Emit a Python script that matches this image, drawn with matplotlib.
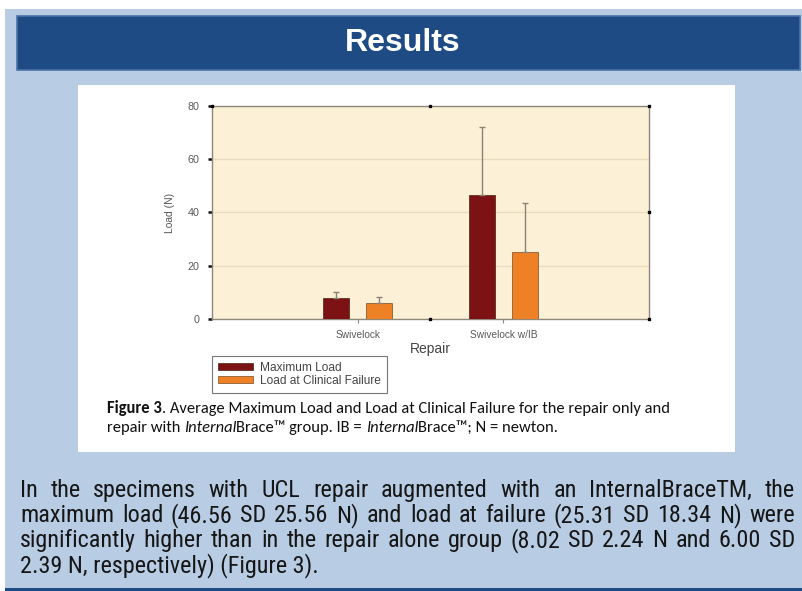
import matplotlib
matplotlib.use("Agg")
import matplotlib.pyplot as plt
from matplotlib.patches import Rectangle
from matplotlib.transforms import IdentityTransform
from matplotlib import font_manager as fm
import numpy as np

# ---------------- data ----------------
categories = ["Swivelock", "Swivelock w/IB"]
max_load = [8.02, 46.56]
max_load_sd = [2.24, 25.56]
clin_load = [6.00, 25.31]
clin_load_sd = [2.39, 18.34]
series_names = ["Maximum Load", "Load at Clinical Failure"]
yticks = [0, 20, 40, 60, 80]

W, H = 803, 591
fig = plt.figure(figsize=(W / 100, H / 100), dpi=100)
fig.patch.set_facecolor("white")
ID = IdentityTransform()


def px_rect(x0, y0, x1, y1, **kw):
    fig.patches.append(Rectangle((x0, H - y1), x1 - x0, y1 - y0, transform=ID, **kw))


# backgrounds (below the axes)
px_rect(5, 9, 803, 591, facecolor="#b8cce4", edgecolor="none", zorder=-10)
px_rect(17, 16, 800, 70, facecolor="#1f4b84", edgecolor="#4a72a8", lw=1.2, zorder=-9)
px_rect(78, 85, 735, 452, facecolor="white", edgecolor="none", zorder=-9)
px_rect(5, 588, 803, 591, facecolor="#1f4b84", edgecolor="none", zorder=-9)

renderer = fig.canvas.get_renderer()


def width_of(s, **kw):
    t = fig.text(0, 0, s, transform=ID, **kw)
    w = t.get_window_extent(renderer).width
    t.remove()
    return w


def fit_size(s, target, **kw):
    w = width_of(s, fontsize=10, **kw)
    return 10 * target / w


def find_family(cands, default):
    for c in cands:
        try:
            fm.findfont(fm.FontProperties(family=c), fallback_to_default=False)
            return c
        except Exception:
            pass
    return default


chart_font = "Liberation Sans"

# header title
hs = fit_size("Results", 116, family=chart_font, weight="bold")
fig.text(403 / W, 1 - 43 / H, "Results", ha="center", va="center", color="white",
         family=chart_font, weight="bold", fontsize=hs, zorder=3)

# ---------------- chart ----------------
ax = fig.add_axes([212 / W, 1 - 319 / H, 437 / W, 213 / H])
ax.set_facecolor("#fcf0d7")
x = np.arange(len(categories))
bw = 0.18
off = 0.147
err_kw = dict(ecolor="#8a8273", elinewidth=1.0, capsize=2.5, capthick=1.0)
ax.bar(x - off, max_load, bw, yerr=[np.zeros(2), max_load_sd], color="#7d1214",
       edgecolor="#4a2010", linewidth=0.5, error_kw=err_kw, label=series_names[0], zorder=3)
ax.bar(x + off, clin_load, bw, yerr=[np.zeros(2), clin_load_sd], color="#ee8125",
       edgecolor="#7a4a20", linewidth=0.5, error_kw=err_kw, label=series_names[1], zorder=3)
ax.set_xlim(-1, 2)
ax.set_ylim(0, 80)
ax.set_yticks(yticks)
ax.set_xticks(x)
for s in ax.spines.values():
    s.set_color("#8d887c")
    s.set_linewidth(1.0)
ax.yaxis.grid(True, color="#eadcbf", linewidth=1.0, zorder=0)
ax.set_axisbelow(True)

xt_fs = fit_size("Swivelock", 49, family=chart_font) * 0.92
yt_fs = fit_size("80", 12, family=chart_font)
ax.set_yticklabels([str(v) for v in yticks], family=chart_font, fontsize=yt_fs, color="#5a5a5a")
ax.set_xticklabels(categories, family=chart_font, fontsize=xt_fs, color="#5a5a5a")
ax.tick_params(axis="y", length=3, width=1.8, color="#111111", pad=6)
ax.tick_params(axis="x", length=3, width=0.8, color="#8d887c", pad=5)
lab_fs = fit_size("Load (N)", 40, family=chart_font)
ax.set_ylabel("Load (N)", family=chart_font, fontsize=lab_fs, color="#555555", labelpad=9)
rep_fs = fit_size("Repair", 41, family=chart_font)
ax.set_xlabel("Repair", family=chart_font, fontsize=rep_fs, color="#444444", labelpad=1)
# frame handles
hx = [0, 0.5, 1, 1, 0.5, 1]
hy = [1, 1, 1, 0.5, 0, 0]
ax.plot(hx, hy, "s", color="black", ms=1.6, transform=ax.transAxes, clip_on=False, zorder=5)

leg_fs = fit_size("Load at Clinical Failure", 122, family=chart_font)
leg = fig.legend(loc="upper left", bbox_to_anchor=(212 / W, 1 - 356 / H),
                 bbox_transform=fig.transFigure, frameon=True, fancybox=False,
                 prop=dict(family=chart_font, size=leg_fs),
                 borderaxespad=0, handlelength=2.9, handleheight=0.5, labelspacing=0.05,
                 handletextpad=0.6, borderpad=0.5)
leg.get_frame().set_edgecolor("#555555")
leg.get_frame().set_linewidth(0.8)
for t in leg.get_texts():
    t.set_color("#444444")

# ---------------- caption ----------------
cap_font = find_family(["Carlito", "Calibri", "Lato"], "Open Sans")
line1 = [("Figure 3", "bold", "normal"),
         (". Average Maximum Load and Load at Clinical Failure for the repair only and", "normal", "normal")]
line2 = [("repair with ", "normal", "normal"), ("Internal", "normal", "italic"),
         ("Brace\u2122 group. IB = ", "normal", "normal"), ("Internal", "normal", "italic"),
         ("Brace\u2122; N = newton.", "normal", "normal")]


def seg_width(segs, fs):
    return sum(width_of(s, fontsize=fs, family=cap_font, weight=w, style=st) for s, w, st in segs)


cfs = 10 * 565 / seg_width(line1, 10)


def draw_segs(segs, x0, ybase, fs):
    xx = x0
    for s, w, st in segs:
        t = fig.text(xx, H - ybase, s, transform=ID, fontsize=fs, family=cap_font,
                     weight=w, style=st, color="#111111", va="baseline", zorder=3)
        xx += t.get_window_extent(renderer).width


draw_segs(line1, 107, 413, cfs)
draw_segs(line2, 107, 432, cfs)

# ---------------- body text ----------------
body_font = find_family(["Liberation Sans Narrow", "Arial Narrow", "Roboto Condensed",
                         "Open Sans Condensed"], "Roboto")
body_lines = [
    "In the specimens with UCL repair augmented with an InternalBraceTM, the",
    "maximum load (46.56 SD 25.56 N) and load at failure (25.31 SD 18.34 N) were",
    "significantly higher than in the repair alone group (8.02 SD 2.24 N and 6.00 SD",
    "2.39 N, respectively) (Figure 3).",
]
bfs = fit_size(body_lines[-1], 297, family=body_font)
left, right = 20, 795
baselines = [497, 522, 547, 572]
for i, line in enumerate(body_lines):
    yb = H - baselines[i]
    if i == len(body_lines) - 1:
        fig.text(left, yb, line, transform=ID, fontsize=bfs, family=body_font,
                 color="#161616", va="baseline", zorder=3)
        continue
    words = line.split(" ")
    ws = [width_of(wd, fontsize=bfs, family=body_font) for wd in words]
    gap = (right - left - sum(ws)) / (len(words) - 1)
    xx = left
    for wd, ww in zip(words, ws):
        fig.text(xx, yb, wd, transform=ID, fontsize=bfs, family=body_font,
                 color="#161616", va="baseline", zorder=3)
        xx += ww + gap

fig.savefig("out.png", dpi=100, facecolor=fig.get_facecolor())
